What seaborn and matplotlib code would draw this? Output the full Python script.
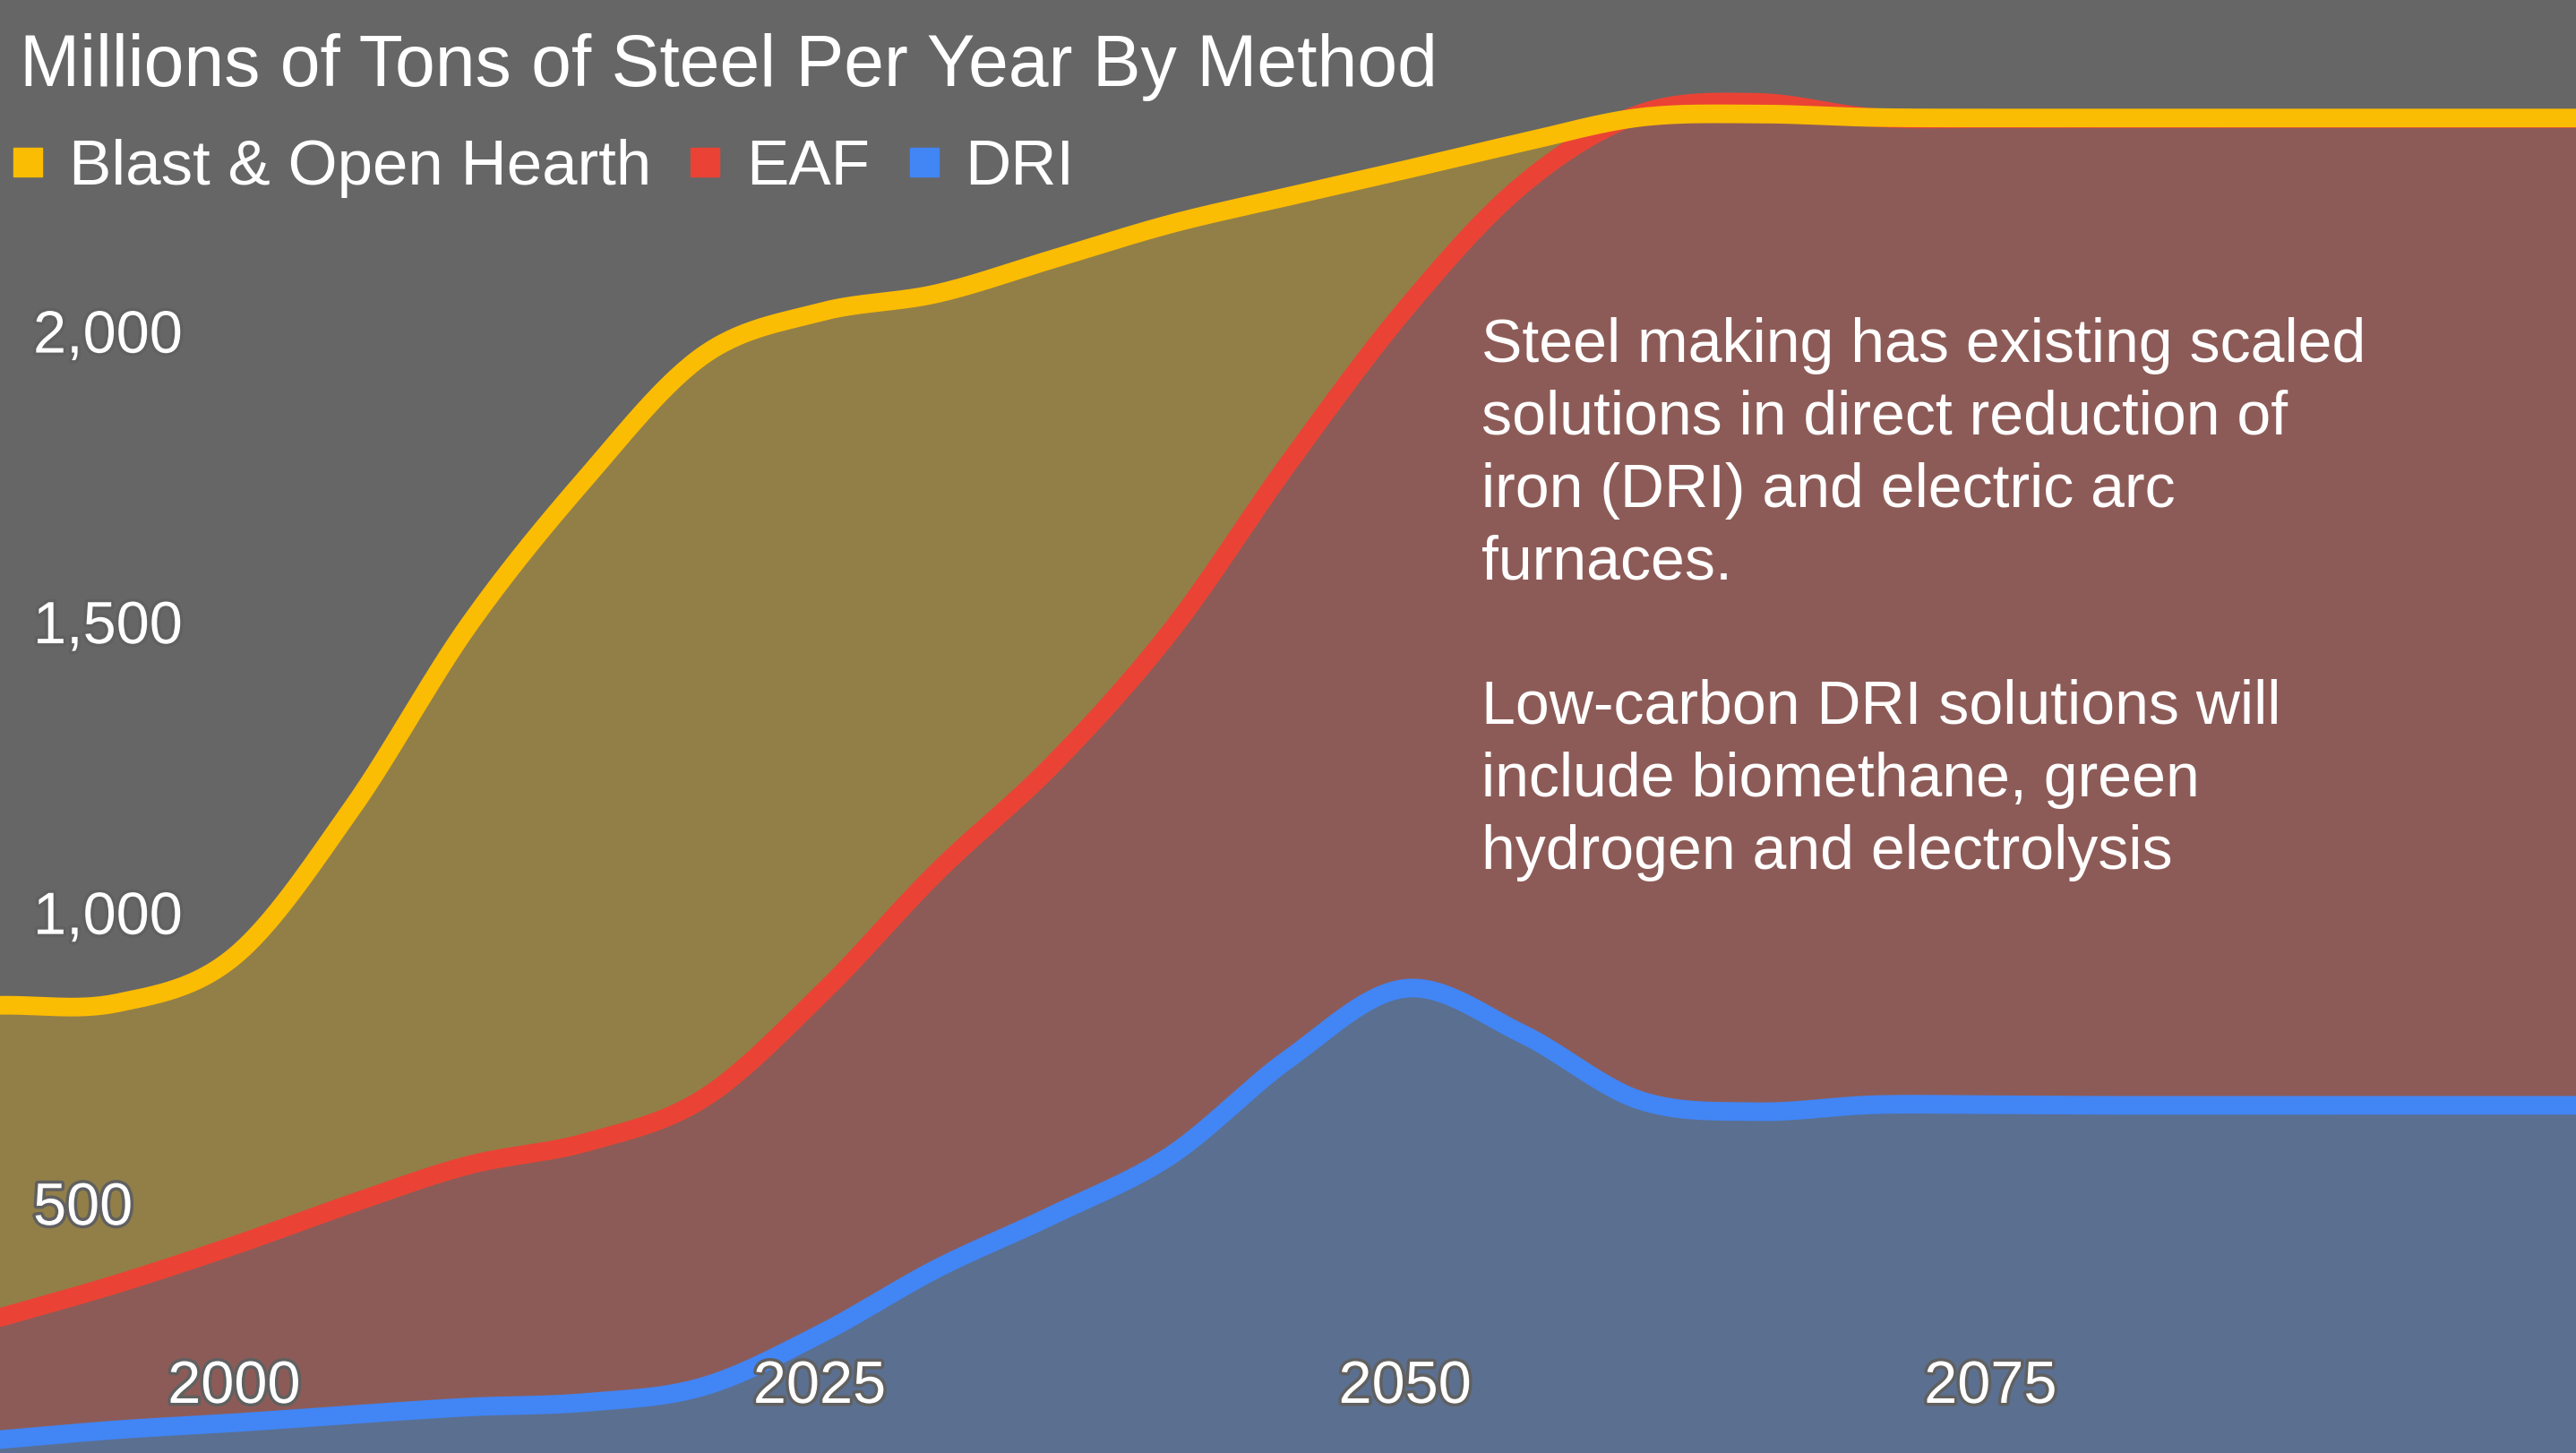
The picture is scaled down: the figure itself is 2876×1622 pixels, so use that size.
import numpy as np
import pandas as pd
import matplotlib
matplotlib.use("Agg")
import matplotlib.pyplot as plt
import matplotlib.transforms as mtransforms
import matplotlib.patheffects as pe
from matplotlib.lines import Line2D
import seaborn as sns

years = list(range(1990, 2101, 5))
blast = [841, 845, 925, 1178, 1494, 1747, 1958, 2033, 2065, 2125, 2185, 2232,
         2278, 2325, 2368, 2374, 2368, 2367, 2367, 2367, 2367, 2367, 2367]
eaf = [304, 362, 428, 500, 566, 605, 680, 858, 1070, 1257, 1485, 1772,
       2038, 2252, 2374, 2394, 2368, 2366, 2366, 2366, 2366, 2366, 2366]
dri = [94, 111, 123, 137, 150, 158, 185, 275, 388, 481, 583, 748,
       870, 792, 678, 658, 670, 670, 669, 669, 669, 669, 669]

methods = ["Blast & Open Hearth", "EAF", "DRI"]
colors = {"Blast & Open Hearth": "#fbbc04", "EAF": "#ea4335", "DRI": "#4285f4"}

y_ticks = [500, 1000, 1500, 2000]
y_tick_labels = ["500", "1,000", "1,500", "2,000"]
x_ticks = [2000, 2025, 2050, 2075]

title = "Millions of Tons of Steel Per Year By Method"
note = [
    "Steel making has existing scaled",
    "solutions in direct reduction of",
    "iron (DRI) and electric arc",
    "furnaces.",
    "",
    "Low-carbon DRI solutions will",
    "include biomethane, green",
    "hydrogen and electrolysis",
]


def smooth(x, y, n=30):
    # cubic hermite through the points, catmull-rom style tangents
    x = np.asarray(x, float)
    y = np.asarray(y, float)
    m = np.gradient(y, x)
    t = np.linspace(0, 1, n, endpoint=False)
    h00 = 2 * t**3 - 3 * t**2 + 1
    h10 = t**3 - 2 * t**2 + t
    h01 = -2 * t**3 + 3 * t**2
    h11 = t**3 - t**2
    xs, ys = [], []
    for i in range(len(x) - 1):
        h = x[i + 1] - x[i]
        xs.append(x[i] + t * h)
        ys.append(h00 * y[i] + h10 * h * m[i] + h01 * y[i + 1] + h11 * h * m[i + 1])
    xs.append([x[-1]])
    ys.append([y[-1]])
    return np.concatenate(xs), np.concatenate(ys)


sx, s_blast = smooth(years, blast)
_, s_eaf = smooth(years, eaf)
_, s_dri = smooth(years, dri)

df = pd.concat([
    pd.DataFrame({"year": sx, "value": s_blast, "method": "Blast & Open Hearth"}),
    pd.DataFrame({"year": sx, "value": s_eaf, "method": "EAF"}),
    pd.DataFrame({"year": sx, "value": s_dri, "method": "DRI"}),
])

sns.set_style("white")
plt.rcParams["font.family"] = ["Liberation Sans", "DejaVu Sans"]

bg = "#666666"
fig = plt.figure(figsize=(28.76, 16.22), dpi=100, facecolor=bg)
ax = fig.add_axes([0, 0, 1, 1])
ax.set_facecolor(bg)

# filled bands between the lines
ax.fill_between(sx, 0, s_dri, color=colors["DRI"], alpha=0.3, lw=0)
ax.fill_between(sx, s_dri, s_eaf, color=colors["EAF"], alpha=0.3, lw=0)
ax.fill_between(sx, s_eaf, s_blast, where=s_blast >= s_eaf, interpolate=True,
                color=colors["Blast & Open Hearth"], alpha=0.3, lw=0)

sns.lineplot(data=df, x="year", y="value", hue="method",
             hue_order=["DRI", "EAF", "Blast & Open Hearth"],
             palette=colors, linewidth=15, estimator=None, sort=False,
             legend=False, ax=ax)

ax.set_xlim(1990, 2100)
ax.set_ylim(71, 2570)
ax.set_xticks([])
ax.set_yticks([])
ax.set_xlabel("")
ax.set_ylabel("")
for s in ax.spines.values():
    s.set_visible(False)

halo = [pe.withStroke(linewidth=5, foreground="#606060")]

ytrans = mtransforms.offset_copy(
    mtransforms.blended_transform_factory(ax.transAxes, ax.transData),
    fig=fig, y=-17, units="points")
for v, lab in zip(y_ticks, y_tick_labels):
    ax.text(37 / 2876, v, lab, transform=ytrans, ha="left", va="baseline",
            fontsize=48, color="white", path_effects=halo)

xtrans = mtransforms.blended_transform_factory(ax.transData, ax.transAxes)
for yr in x_ticks:
    ax.text(yr, 1 - 1566 / 1622, str(yr), transform=xtrans, ha="center",
            va="baseline", fontsize=48, color="white", path_effects=halo)

fig.text(22 / 2876, 1 - 96 / 1622, title, ha="left", va="baseline",
         fontsize=58, color="white")

handles = [Line2D([], [], marker="s", linestyle="", markersize=23,
                  markerfacecolor=colors[m], markeredgecolor=colors[m])
           for m in methods]
leg = ax.legend(handles, methods, loc="center left",
                bbox_to_anchor=(6 / 2876, 1 - 188 / 1622),
                bbox_transform=fig.transFigure, ncol=3, frameon=False,
                fontsize=51, handlelength=0.7, handletextpad=0.3,
                columnspacing=0.5, borderpad=0, borderaxespad=0)
for t in leg.get_texts():
    t.set_color("white")

for i, line in enumerate(note):
    if line:
        fig.text(1654 / 2876, 1 - (404 + 80.8 * i) / 1622, line, ha="left",
                 va="baseline", fontsize=49, color="white")

fig.savefig("out.png", dpi=100, facecolor=bg)
